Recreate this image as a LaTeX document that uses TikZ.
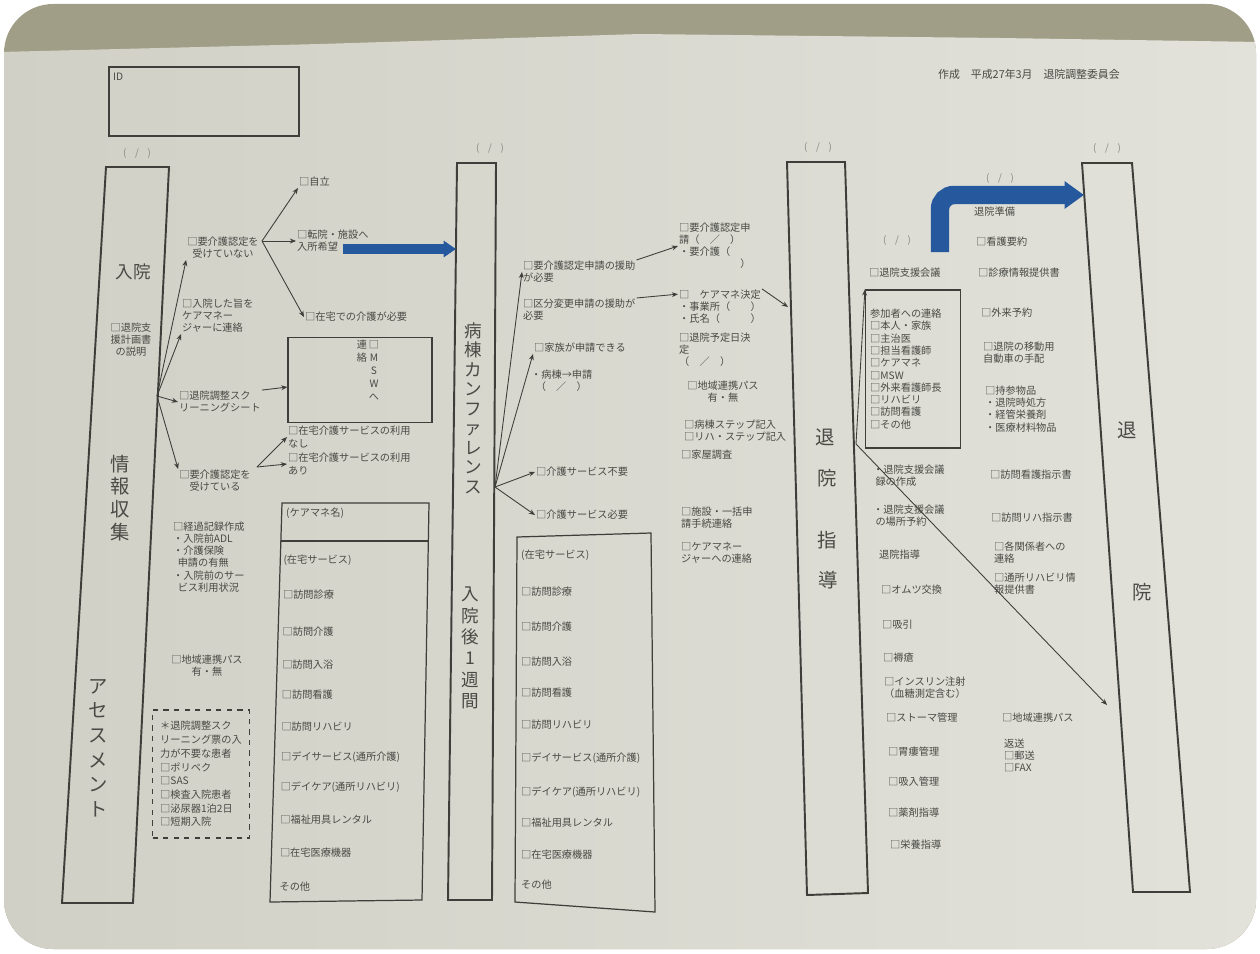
\documentclass[tikz,border=0pt]{standalone}
\usepackage{fontspec}
\setmainfont{Noto Sans CJK JP}
\usepackage{tikz}
\usetikzlibrary{positioning,arrows.meta,calc}
\definecolor{ink}{RGB}{62,62,58}
\definecolor{textink}{RGB}{74,74,70}
\definecolor{faint}{RGB}{135,135,128}
\definecolor{paperL}{RGB}{208,208,198}
\definecolor{paperR}{RGB}{226,226,219}
\definecolor{wall}{RGB}{160,158,134}
\definecolor{bluearr}{RGB}{38,88,158}
\tikzset{
  column/.style={draw=ink,line width=1.1pt},
  frame/.style={draw=ink,line width=0.7pt},
  item/.style={anchor=west,align=left,inner sep=0.5pt,text=textink,font=\fontsize{5.8}{6.9}\selectfont},
  citem/.style={item,anchor=center,align=center},
  vlabel/.style={align=center,inner sep=0pt,text=textink,font=\fontsize{10}{12}\selectfont},
  datemark/.style={inner sep=0pt,text=faint,font=\fontsize{5.5}{6}\selectfont},
  link/.style={draw=ink,line width=0.5pt,-{Stealth[length=3.5pt,width=2.8pt]}},
  bluelink/.style={draw=bluearr,line width=5.6pt,-{Triangle[length=7pt,width=9pt]}},
  bigblue/.style={draw=bluearr,line width=10.5pt,rounded corners=8pt,-{Triangle[length=11pt,width=15pt]}}
}

\begin{document}
\begin{tikzpicture}[x=0.02cm,y=-0.02cm]
  \useasboundingbox (0,0) rectangle (1260,953);
  \fill[white] (0,0) rectangle (1260,953);
  \begin{scope}
    \clip[rounded corners=28pt] (4,4) rectangle (1256,949);
    \fill[wall] (0,0) rectangle (1260,953);
    \shade[left color=paperL,right color=paperR] (0,52) -- (320,44) -- (640,34) -- (1000,38) -- (1260,42) -- (1260,953) -- (0,953) -- cycle;
  \end{scope}

  % columns
  \draw[column] (106,167) -- (169,167) -- (133,903) -- (62,903) -- cycle;
  \draw[column] (457,163) -- (496,163) -- (492,900) -- (448,900) -- cycle;
  \draw[column] (787,162) -- (845,162) -- (868,893) -- (807,895) -- cycle;
  \draw[column] (1082,163) -- (1132,163) -- (1190,892) -- (1133,892) -- cycle;

  \node[frame,minimum width=3.8cm,minimum height=1.38cm] (idbox) at (204,101.5) {};
  \node[item] (idtext) at (112,77) {ID};
  \node[item,font=\fontsize{6.2}{7}\selectfont] (header) at (937,74) {作成　平成27年3月　退院調整委員会};

  \node[datemark] (date1) at (137,153) {(\hspace{5pt}/\hspace{5pt})};
  \node[datemark] (date2) at (490,148) {(\hspace{5pt}/\hspace{5pt})};
  \node[datemark] (date3) at (818,147) {(\hspace{5pt}/\hspace{5pt})};
  \node[datemark] (date4) at (1107,148) {(\hspace{5pt}/\hspace{5pt})};
  \node[datemark] (date5) at (1000,178) {(\hspace{5pt}/\hspace{5pt})};
  \node[datemark] (date6) at (897,240) {(\hspace{5pt}/\hspace{5pt})};

  % column labels
  \node[vlabel] (nyuin) at (133,272) {入院};
  \node[citem] (keikaku) at (131,340) {□退院支\\援計画書\\の説明};
  \node[vlabel,font=\fontsize{11}{13}\selectfont] (joho) at (120,498) {情\\報\\収\\集};
  \node[vlabel,font=\fontsize{11}{14}\selectfont] (assess) at (98,748) {ア\\セ\\ス\\メ\\ン\\ト};
  \node[vlabel,font=\fontsize{10}{11.1}\selectfont] (byoto) at (473,408) {病\\棟\\カ\\ン\\フ\\ァ\\レ\\ン\\ス};
  \node[vlabel,font=\fontsize{10}{12.1}\selectfont] (isshukan) at (470,648) {入\\院\\後\\1\\週\\間};
  \node[vlabel,font=\fontsize{11}{12}\selectfont] (tai3) at (825,437) {退};
  \node[vlabel,font=\fontsize{11}{12}\selectfont] (in3) at (827,478) {院};
  \node[vlabel,font=\fontsize{11}{12}\selectfont] (shi3) at (827,540) {指};
  \node[vlabel,font=\fontsize{11}{12}\selectfont] (do3) at (828,580) {導};
  \node[vlabel,font=\fontsize{11}{12}\selectfont] (tai4) at (1127,430) {退};
  \node[vlabel,font=\fontsize{11}{12}\selectfont] (in4) at (1142,592) {院};

  % admission side
  \node[citem] (yokaigoNo) at (223,248) {□要介護認定を\\受けていない};
  \node[item] (jiritsu) at (298,182) {□自立};
  \node[item] (tenin) at (296,241) {□転院・施設へ\\入所希望};
  \node[item] (zaitakuKaigo) at (304,317) {□在宅での介護が必要};
  \node[item] (cmRenraku) at (181,316) {□入院した旨を\\ケアマネー\\ジャーに連絡};
  \node[item] (screening) at (178,402) {□退院調整スク\\リーニングシート};
  \node[frame,minimum width=2.88cm,minimum height=1.7cm] (mswbox) at (360,380) {};
  \node[vlabel,font=\fontsize{5.8}{7.4}\selectfont] (msw) at (374,371) {□\\M\\S\\W\\へ};
  \node[vlabel,font=\fontsize{5.8}{7.4}\selectfont] (mswRen) at (362,351) {連\\絡};
  \node[citem] (yokaigoYes) at (215,481) {□要介護認定を\\受けている};
  \node[item] (kaigoNashi) at (287,437) {□在宅介護サービスの利用\\なし};
  \node[item] (kaigoAri) at (287,464) {□在宅介護サービスの利用\\あり};
  \node[item] (keika) at (172,557) {□経過記録作成\\・入院前ADL\\・介護保険\\\ \ 申請の有無\\・入院前のサー\\\ \ ビス利用状況};
  \node[citem] (renkei1) at (207,666) {□地域連携パス\\有・無};
  \node[frame,dashed,citem,align=left,minimum width=1.94cm,minimum height=2.56cm,font=\fontsize{5.8}{7.8}\selectfont] (noScreen) at (201,774) {＊退院調整スク\\リーニング票の入\\力が不要な患者\\□ポリペク\\□SAS\\□検査入院患者\\□泌尿器1泊2日\\□短期入院};

  \draw[frame] (282,503) -- (429,503) -- (422,900) -- (270,902) -- cycle;
  \draw[frame] (281,541) -- (428,541);
  \node[item] (cmName) at (285,513) {(ケアマネ名)};
  \foreach \y/\t [count=\i] in {560/{(在宅サービス)},595/□訪問診療,632/□訪問介護,665/□訪問入浴,695/□訪問看護,727/□訪問リハビリ,757/{□デイサービス(通所介護)},787/{□デイケア(通所リハビリ)},820/□福祉用具レンタル,853/□在宅医療機器,887/その他}
    \node[item] (svcA\i) at ({283-(\y-500)*0.012},\y) {\t};

  % conference side
  \node[item] (yokaigoShinsei) at (522,272) {□要介護認定申請の援助\\が必要};
  \node[item] (kubun) at (522,310) {□区分変更申請の援助が\\必要};
  \node[item] (kazoku) at (533,348) {□家族が申請できる};
  \node[item] (byotoShinsei) at (530,381) {・病棟→申請\\\ \ （　／　）};
  \node[item] (fuyou) at (535,472) {□介護サービス不要};
  \node[item] (hitsuyo) at (535,515) {□介護サービス必要};

  \draw[frame] (517,537) -- (651,533) -- (655,912) -- (515,902) -- cycle;
  \foreach \y/\t [count=\i] in {555/{(在宅サービス)},592/□訪問診療,627/□訪問介護,662/□訪問入浴,693/□訪問看護,725/□訪問リハビリ,758/{□デイサービス(通所介護)},792/{□デイケア(通所リハビリ)},823/□福祉用具レンタル,855/□在宅医療機器,885/その他}
    \node[item] (svcB\i) at (520,\y) {\t};

  \node[item] (ninteiShinsei) at (678,246) {□要介護認定申\\請（　／　）\\・要介護（\\　　　　　　）};
  \node[item] (careDecide) at (678,307) {□　ケアマネ決定\\・事業所（　　）\\・氏名（　　　）};
  \node[item] (yoteibi) at (678,350) {□退院予定日決\\定\\（　／　）};
  \node[citem] (renkei2) at (723,392) {□地域連携パス\\有・無};
  \node[item] (step) at (683,431) {□病棟ステップ記入\\□リハ・ステップ記入};
  \node[item] (kaoku) at (680,455) {□家屋調査};
  \node[item] (shisetsu) at (680,518) {□施設・一括申\\請手続連絡};
  \node[item] (cmRenraku2) at (680,553) {□ケアマネー\\ジャーへの連絡};

  % discharge guidance side
  \node[item] (shienKaigi) at (868,273) {□退院支援会議};
  \node[frame,minimum width=1.9cm,minimum height=3.16cm] (sankaBox) at (913,369) {};
  \node[item,font=\fontsize{5.8}{7}\selectfont] (sankaList) at (869,369) {参加者への連絡\\□本人・家族\\□主治医\\□担当看護師\\□ケアマネ\\□MSW\\□外来看護師長\\□リハビリ\\□訪問看護\\□その他};
  \node[item] (kaigiroku) at (872,476) {・退院支援会議\\\ 録の作成};
  \node[item] (basho) at (872,516) {・退院支援会議\\\ の場所予約};
  \node[item] (shidou) at (878,555) {退院指導};
  \node[item] (omutsu) at (880,590) {□オムツ交換};
  \node[item] (kyuin) at (881,625) {□吸引};
  \node[item] (jokuso) at (882,658) {□褥瘡};
  \node[item] (insulin) at (883,688) {□インスリン注射\\（血糖測定含む）};
  \node[item] (stoma) at (885,718) {□ストーマ管理};
  \node[item] (irou) at (887,752) {□胃瘻管理};
  \node[item] (kyunyu) at (887,782) {□吸入管理};
  \node[item] (yakuzai) at (887,813) {□薬剤指導};
  \node[item] (eiyou) at (889,845) {□栄養指導};

  \node[item] (junbi) at (973,212) {退院準備};
  \node[item] (kangoYoyaku) at (975,242) {□看護要約};
  \node[item] (shinryo) at (977,273) {□診療情報提供書};
  \node[item] (gairai) at (980,313) {□外来予約};
  \node[item] (idou) at (982,353) {□退院の移動用\\自動車の手配};
  \node[item] (jisan) at (984,409) {□持参物品\\・退院時処方\\・経管栄養剤\\・医療材料物品};
  \node[item] (houkanShiji) at (989,475) {□訪問看護指示書};
  \node[item] (rihaShiji) at (990,518) {□訪問リハ指示書};
  \node[item] (kankei) at (993,553) {□各関係者への\\連絡};
  \node[item] (tsusho) at (993,584) {□通所リハビリ情\\報提供書};
  \node[item] (renkei3) at (1001,718) {□地域連携パス};
  \node[item] (hensou) at (1003,755) {返送\\□郵送\\□FAX};

  % connectors
  \coordinate (fan1) at (157,396);
  \draw[link] (fan1) -- (yokaigoNo.south west);
  \draw[link] (fan1) -- (cmRenraku.south west);
  \draw[link] (fan1) -- (screening.west);
  \draw[link] (fan1) -- (yokaigoYes.north west);
  \coordinate (fan2) at (262,241);
  \draw[link] (fan2) -- (jiritsu.south west);
  \draw[link] (fan2) -- (tenin.west);
  \draw[link] (fan2) -- (zaitakuKaigo.west);
  \coordinate (blueStart) at (343,249);
  \coordinate (c2in) at (456,249);
  \draw[bluelink] (blueStart) -- (c2in);
  \draw[link] (screening.north east) -- ([yshift=-4pt]mswbox.west);
  \coordinate (fan3) at (257,467);
  \draw[link] (fan3) -- (kaigoNashi.west);
  \draw[link] (fan3) -- (kaigoAri.west);

  \coordinate (fan4) at (495,487);
  \draw[link] (fan4) -- (yokaigoShinsei.west);
  \draw[link] (fan4) -- (kazoku.south west);
  \draw[link] (fan4) -- (fuyou.west);
  \draw[link] (fan4) -- (hitsuyo.west);
  \draw[link] (yokaigoShinsei.north east) -- (ninteiShinsei.west);
  \draw[link] (kubun.north east) -- ([yshift=-3pt]careDecide.north west);
  \coordinate (c3in) at (788,307);
  \draw[link] (careDecide.north east) -- (c3in);

  \coordinate (c3out) at (856,444);
  \draw[link] (c3out) -- (sankaBox.north west);
  \coordinate (diagEnd) at (1107,705);
  \draw[link] (c3out) -- (diagEnd);
  \coordinate (lStart) at (940,252);
  \coordinate (c4in) at (1084,195);
  \draw[bigblue] (lStart) |- (c4in);
\end{tikzpicture}
\end{document}
